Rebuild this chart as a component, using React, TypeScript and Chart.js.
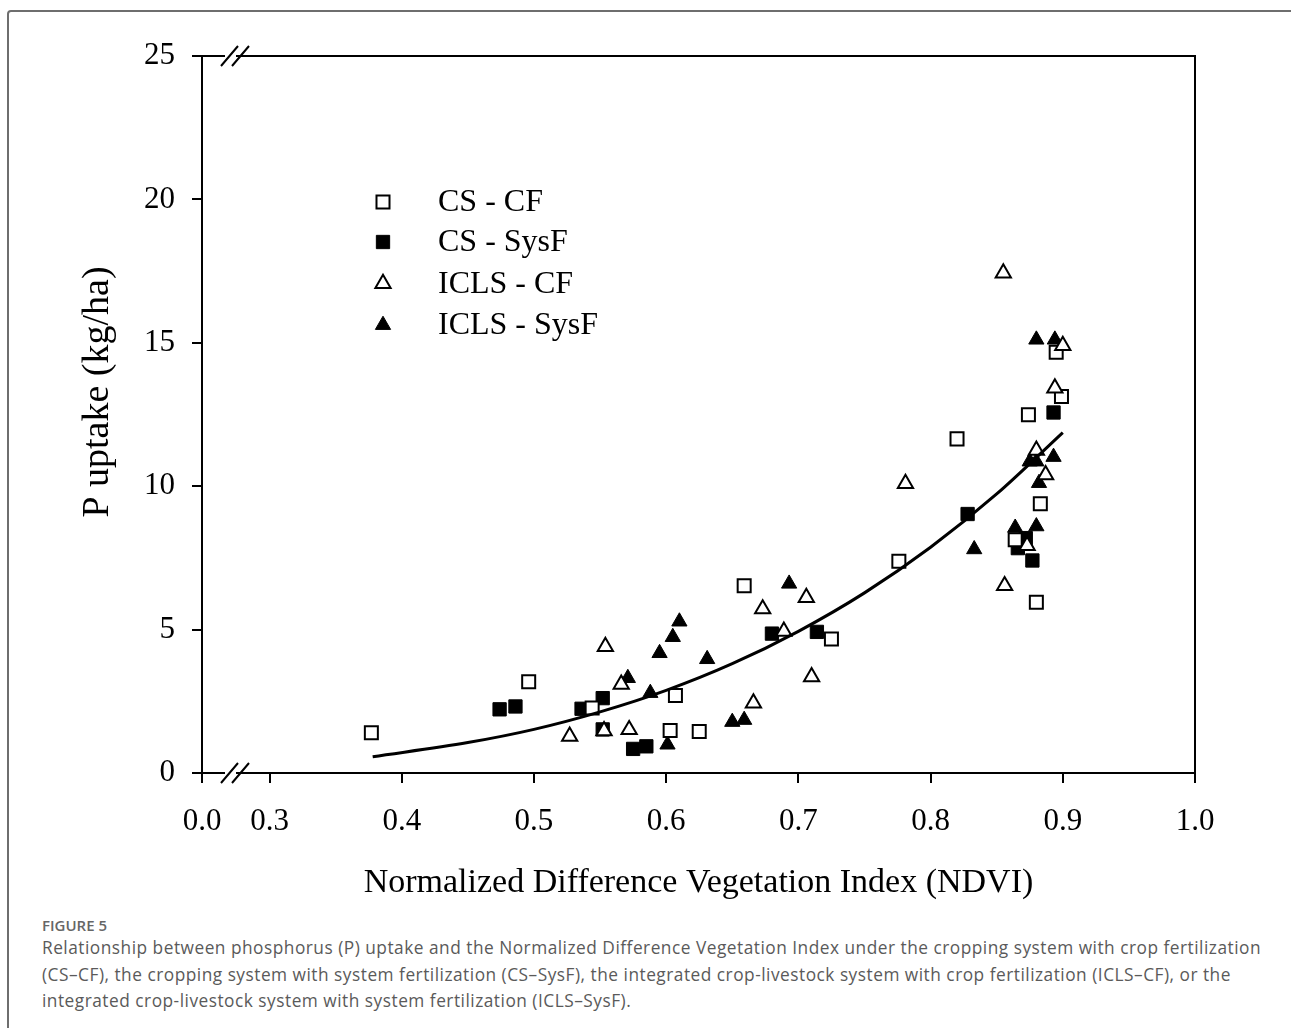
import React, { useEffect, useRef } from 'react';
import { Chart, registerables } from 'chart.js';

Chart.register(...registerables);

// ---------- data ----------
const SERIES_LABELS = ['CS - CF', 'CS - SysF', 'ICLS - CF', 'ICLS - SysF'];

const CS_CF_X = [0.377, 0.496, 0.544, 0.603, 0.625, 0.607, 0.659, 0.725, 0.776, 0.820, 0.874, 0.895, 0.899, 0.883, 0.864, 0.880];
const CS_CF_Y = [1.40, 3.18, 2.27, 1.48, 1.45, 2.70, 6.53, 4.67, 7.38, 11.65, 12.49, 14.67, 13.13, 9.39, 8.13, 5.95];

const CS_SYSF_X = [0.474, 0.486, 0.536, 0.552, 0.552, 0.575, 0.585, 0.680, 0.714, 0.828, 0.893, 0.866, 0.872, 0.877];
const CS_SYSF_Y = [2.22, 2.32, 2.24, 2.61, 1.52, 0.84, 0.93, 4.86, 4.92, 9.03, 12.57, 7.84, 8.19, 7.41];

const ICLS_CF_X = [0.527, 0.553, 0.572, 0.566, 0.554, 0.666, 0.673, 0.689, 0.706, 0.710, 0.781, 0.855, 0.900, 0.894, 0.880, 0.887, 0.873, 0.856];
const ICLS_CF_Y = [1.28, 1.47, 1.51, 3.09, 4.41, 2.44, 5.72, 4.94, 6.12, 3.35, 10.09, 17.43, 14.90, 13.42, 11.25, 10.40, 7.93, 6.53];

const ICLS_SYSF_X = [0.571, 0.588, 0.595, 0.605, 0.610, 0.601, 0.631, 0.650, 0.659, 0.693, 0.833, 0.880, 0.894, 0.893, 0.875, 0.880, 0.882, 0.864, 0.880];
const ICLS_SYSF_Y = [3.31, 2.79, 4.18, 4.74, 5.28, 0.99, 3.97, 1.78, 1.85, 6.60, 7.80, 15.11, 15.11, 11.02, 10.86, 10.86, 10.11, 8.55, 8.60];

// fitted curve
const FIT_X = [0.378, 0.45, 0.5, 0.55, 0.6, 0.65, 0.7, 0.75, 0.8, 0.85, 0.9];
const FIT_Y = [0.57, 1.06, 1.52, 2.13, 2.88, 3.81, 4.94, 6.28, 7.87, 9.73, 11.87];

const X_MIN = 0.2489;
const X_MAX = 1.0;
const X_TICKS = [X_MIN, 0.3, 0.4, 0.5, 0.6, 0.7, 0.8, 0.9, 1.0];
const X_TICK_LABELS = ['0.0', '0.3', '0.4', '0.5', '0.6', '0.7', '0.8', '0.9', '1.0'];
const Y_MIN = 0;
const Y_MAX = 25;
const Y_STEP = 5;

const X_TITLE = 'Normalized Difference Vegetation Index (NDVI)';
const Y_TITLE = 'P uptake (kg/ha)';

const CAPTION_LABEL = 'FIGURE 5';
const CAPTION_LINES = [
  'Relationship between phosphorus (P) uptake and the Normalized Difference Vegetation Index under the cropping system with crop fertilization',
  '(CS\u2013CF), the cropping system with system fertilization (CS\u2013SysF), the integrated crop-livestock system with crop fertilization (ICLS\u2013CF), or the',
  'integrated crop-livestock system with system fertilization (ICLS\u2013SysF).',
];

const SERIF = '"Liberation Serif", "Times New Roman", serif';

const toPts = (xs: number[], ys: number[]) => xs.map((x, i) => ({ x, y: ys[i] }));

function markerPath(ctx: CanvasRenderingContext2D, style: string, x: number, y: number, r: number) {
  ctx.beginPath();
  if (style === 'rect') {
    const s = Math.SQRT1_2 * r;
    ctx.rect(x - s, y - s, 2 * s, 2 * s);
  } else {
    const a = (2 * Math.PI) / 3;
    let rad = 0;
    ctx.moveTo(x + Math.sin(rad) * r, y - Math.cos(rad) * r);
    rad += a;
    ctx.lineTo(x + Math.sin(rad) * r, y - Math.cos(rad) * r);
    rad += a;
    ctx.lineTo(x + Math.sin(rad) * r, y - Math.cos(rad) * r);
    ctx.closePath();
  }
}

const decorPlugin = {
  id: 'decor',
  afterDraw(chart: any) {
    const { ctx, chartArea } = chart;
    const { left, right, top, bottom } = chartArea;
    ctx.save();
    // top and right frame
    ctx.strokeStyle = '#000';
    ctx.lineWidth = 2;
    ctx.beginPath();
    ctx.moveTo(left, top);
    ctx.lineTo(right, top);
    ctx.lineTo(right, bottom);
    ctx.stroke();

    // axis break marks
    const breakX = [left + 19, left + 30];
    [top, bottom].forEach((yy) => {
      ctx.fillStyle = '#fff';
      ctx.fillRect(breakX[0] + 4, yy - 1.5, breakX[1] - breakX[0], 3);
      ctx.beginPath();
      breakX.forEach((bx) => {
        ctx.moveTo(bx, yy + 10);
        ctx.lineTo(bx + 17, yy - 10);
      });
      ctx.lineWidth = 2;
      ctx.stroke();
    });

    // y-axis title
    ctx.fillStyle = '#000';
    ctx.font = `38px ${SERIF}`;
    ctx.textAlign = 'center';
    ctx.textBaseline = 'middle';
    ctx.translate(98, 392);
    ctx.rotate(-Math.PI / 2);
    ctx.fillText(Y_TITLE, 0, 0);
    ctx.restore();

    // legend
    ctx.save();
    const rows = [202, 242, 283.5, 325];
    const pointSets = chart.data.datasets.filter((d: any) => d.isSeries);
    pointSets.forEach((d: any, i: number) => {
      const y = rows[i];
      markerPath(ctx, d.pointStyle, 383, y, d.pointRadius);
      ctx.fillStyle = d.backgroundColor;
      ctx.fill();
      ctx.lineWidth = d.borderWidth;
      ctx.strokeStyle = d.borderColor;
      ctx.stroke();
      ctx.fillStyle = '#000';
      ctx.font = `32px ${SERIF}`;
      ctx.textAlign = 'left';
      ctx.textBaseline = 'middle';
      ctx.fillText(d.label, 438, y + 1);
    });
    ctx.restore();
  },
};

function ScatterChart() {
  const ref = useRef<HTMLCanvasElement | null>(null);
  useEffect(() => {
    if (!ref.current) return;
    const open = { backgroundColor: '#fff', borderColor: '#000', borderWidth: 2 };
    const filled = { backgroundColor: '#000', borderColor: '#000', borderWidth: 1 };
    const chart = new Chart(ref.current, {
      type: 'scatter',
      data: {
        datasets: [
          {
            type: 'line',
            label: 'fit',
            data: toPts(FIT_X, FIT_Y),
            borderColor: '#000',
            borderWidth: 3,
            pointRadius: 0,
            fill: false,
            cubicInterpolationMode: 'monotone',
            order: 0,
          } as any,
          { label: SERIES_LABELS[0], data: toPts(CS_CF_X, CS_CF_Y), pointStyle: 'rect', pointRadius: 9.2, ...open, order: 2, isSeries: true } as any,
          { label: SERIES_LABELS[1], data: toPts(CS_SYSF_X, CS_SYSF_Y), pointStyle: 'rect', pointRadius: 9.4, ...filled, order: 4, isSeries: true } as any,
          { label: SERIES_LABELS[2], data: toPts(ICLS_CF_X, ICLS_CF_Y), pointStyle: 'triangle', pointRadius: 8.8, ...open, order: 1, isSeries: true } as any,
          { label: SERIES_LABELS[3], data: toPts(ICLS_SYSF_X, ICLS_SYSF_Y), pointStyle: 'triangle', pointRadius: 8.8, ...filled, order: 3, isSeries: true } as any,
        ],
      },
      options: {
        animation: false,
        responsive: false,
        maintainAspectRatio: false,
        layout: { padding: { top: 56, right: 96, left: 0, bottom: 0 } },
        plugins: { legend: { display: false }, tooltip: { enabled: false } },
        scales: {
          x: {
            type: 'linear',
            min: X_MIN,
            max: X_MAX,
            afterBuildTicks: (s: any) => {
              s.ticks = X_TICKS.map((v) => ({ value: v }));
            },
            afterFit: (s: any) => {
              s.height = 137;
            },
            ticks: {
              autoSkip: false,
              maxRotation: 0,
              color: '#000',
              padding: 20,
              font: { family: SERIF, size: 31 },
              callback: (_v: any, i: number) => X_TICK_LABELS[i],
            },
            grid: { drawOnChartArea: false, drawTicks: true, tickLength: 10, color: '#000', lineWidth: 2 },
            border: { color: '#000', width: 2 },
            title: {
              display: true,
              text: X_TITLE,
              color: '#000',
              font: { family: SERIF, size: 34 },
              padding: { top: 0, bottom: 7 },
            },
          },
          y: {
            type: 'linear',
            min: Y_MIN,
            max: Y_MAX,
            afterFit: (s: any) => {
              s.width = 202;
            },
            ticks: {
              stepSize: Y_STEP,
              color: '#000',
              padding: 17,
              font: { family: SERIF, size: 31 },
            },
            grid: { drawOnChartArea: false, drawTicks: true, tickLength: 10, color: '#000', lineWidth: 2 },
            border: { color: '#000', width: 2 },
          },
        },
      } as any,
      plugins: [decorPlugin],
    });
    return () => chart.destroy();
  }, []);
  return (
    <canvas
      ref={ref}
      width={1291}
      height={910}
      style={{ position: 'absolute', left: 0, top: 0, width: 1291, height: 910 }}
    />
  );
}

export default function App() {
  useEffect(() => {
    document.body.style.margin = '0';
    document.body.style.overflow = 'hidden';
  }, []);
  return (
    <div style={{ position: 'relative', width: 1291, height: 1028, overflow: 'hidden', background: '#fff' }}>
      <div
        style={{
          position: 'absolute',
          left: 7,
          top: 10,
          width: 1400,
          height: 1100,
          border: '2px solid #6e6e6e',
          borderRadius: 4,
          boxSizing: 'border-box',
        }}
      />
      <ScatterChart />
      <div
        style={{
          position: 'absolute',
          left: 42,
          top: 915,
          fontFamily: '"Open Sans", "Noto Sans", sans-serif',
          color: '#5a5a5a',
        }}
      >
        <div style={{ fontSize: 15, fontWeight: 600, lineHeight: '20px', color: '#666' }}>{CAPTION_LABEL}</div>
        {CAPTION_LINES.map((line, i) => (
          <div key={i} style={{ fontSize: 17.3, letterSpacing: 0.5, lineHeight: '26.5px', whiteSpace: 'nowrap' }}>
            {line}
          </div>
        ))}
      </div>
    </div>
  );
}
